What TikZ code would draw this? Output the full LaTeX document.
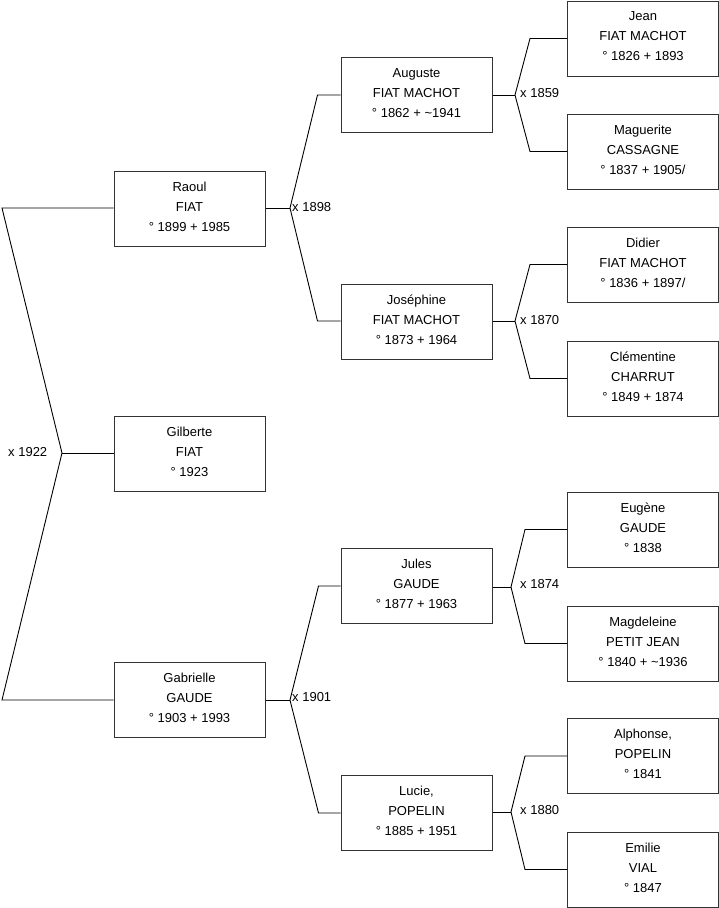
\documentclass[tikz,border=0pt]{standalone}
\usepackage{fontspec}
\setmainfont{Liberation Sans}
\usetikzlibrary{calc}
\newcommand{\lastdp}{\rule[-4pt]{0pt}{4pt}}
\begin{document}
\begin{tikzpicture}[x=1pt,y=-1pt,
  person/.style={draw=black!80, line width=1pt, minimum width=151pt, minimum height=75pt,
    inner sep=0pt, align=center, font=\fontsize{13}{20}\selectfont, fill=white},
  wed/.style={anchor=west, inner sep=0pt, font=\fontsize{13}{16}\selectfont},
  link/.style={draw=black, line width=0.9pt}]
\useasboundingbox (0,0) rectangle (719,908);
% column 1
\node[person] (raoul) at (189.5,208.5) {Raoul\\FIAT\\° 1899 + 1985\lastdp};
\node[person] (gilberte) at (189.5,453.5) {Gilberte\\FIAT\\° 1923\lastdp};
\node[person] (gabrielle) at (189.5,699.5) {Gabrielle\\GAUDE\\° 1903 + 1993\lastdp};
% column 2
\node[person] (auguste) at (416.5,95) {Auguste\\FIAT MACHOT\\° 1862 + \textasciitilde1941\lastdp};
\node[person] (josephine) at (416.5,322) {Joséphine\\FIAT MACHOT\\° 1873 + 1964\lastdp};
\node[person] (jules) at (416.5,586) {Jules\\GAUDE\\° 1877 + 1963\lastdp};
\node[person] (lucie) at (416.5,813) {Lucie,\\POPELIN\\° 1885 + 1951\lastdp};
% column 3
\node[person] (jean) at (643,38.5) {Jean\\FIAT MACHOT\\° 1826 + 1893\lastdp};
\node[person] (maguerite) at (643,151.5) {Maguerite\\CASSAGNE\\° 1837 + 1905/\lastdp};
\node[person] (didier) at (643,264.5) {Didier\\FIAT MACHOT\\° 1836 + 1897/\lastdp};
\node[person] (clementine) at (643,378.5) {Clémentine\\CHARRUT\\° 1849 + 1874\lastdp};
\node[person] (eugene) at (643,529.5) {Eugène\\GAUDE\\° 1838\lastdp};
\node[person] (magdeleine) at (643,643.5) {Magdeleine\\PETIT JEAN\\° 1840 + \textasciitilde1936\lastdp};
\node[person] (alphonse) at (643,756) {Alphonse,\\POPELIN\\° 1841\lastdp};
\node[person] (emilie) at (643,869.5) {Emilie\\VIAL\\° 1847\lastdp};
% fork points
\coordinate (f0) at (62,453);
\coordinate (f0a) at (2,208);
\coordinate (f0b) at (2,700);
\coordinate (f1) at (290,208);
\coordinate (f2) at (290,700);
\coordinate (f3) at (515,95);
\coordinate (f4) at (515,321);
\coordinate (f5) at (511,587);
\coordinate (f6) at (511,812);
% main couple
\draw[link] (raoul.west |- f0a) -- (f0a) -- (f0) -- (f0b) -- (gabrielle.west |- f0b);
\draw[link] (f0) -- (gilberte.west |- f0);
\node[wed] (w0) at (8,452) {x 1922};
% Raoul's parents
\draw[link] (raoul.east |- f1) -- (f1);
\draw[link] (auguste.west) -- ++(-23,0) -- (f1) -- ($(josephine.west |- f4)+(-23,0)$) -- (josephine.west |- f4);
\node[wed] (w1) at (292,207) {x 1898};
% Gabrielle's parents
\draw[link] (gabrielle.east |- f2) -- (f2);
\draw[link] (jules.west) -- ++(-22,0) -- (f2) -- ($(lucie.west)+(-22,0)$) -- (lucie.west);
\node[wed] (w2) at (292,697) {x 1901};
% Auguste's parents
\draw[link] (auguste.east) -- (f3);
\draw[link] (jean.west) -- ++(-37,0) -- (f3) -- ($(maguerite.west)+(-37,0)$) -- (maguerite.west);
\node[wed] (w3) at (520,93) {x 1859};
% Josephine's parents
\draw[link] (josephine.east |- f4) -- (f4);
\draw[link] (didier.west) -- ++(-37,0) -- (f4) -- ($(clementine.west)+(-37,0)$) -- (clementine.west);
\node[wed] (w4) at (520,320) {x 1870};
% Jules's parents
\draw[link] (jules.east |- f5) -- (f5);
\draw[link] (eugene.west) -- ++(-42,0) -- (f5) -- ($(magdeleine.west)+(-42,0)$) -- (magdeleine.west);
\node[wed] (w5) at (520,584) {x 1874};
% Lucie's parents
\draw[link] (lucie.east |- f6) -- (f6);
\draw[link] (alphonse.west) -- ++(-42,0) -- (f6) -- ($(emilie.west)+(-42,0)$) -- (emilie.west);
\node[wed] (w6) at (520,810) {x 1880};
\end{tikzpicture}
\end{document}
